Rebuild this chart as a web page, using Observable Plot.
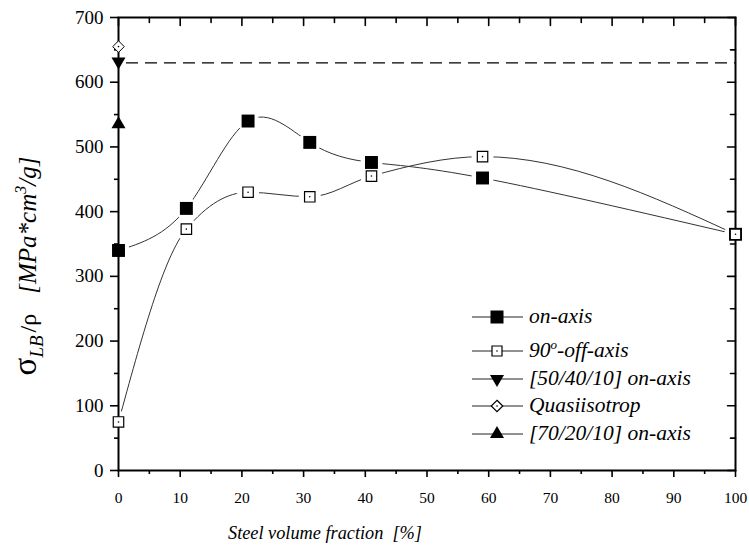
<!DOCTYPE html>
<html><head><meta charset="utf-8">
<script src="https://cdn.jsdelivr.net/npm/d3@7"></script>
<script src="https://cdn.jsdelivr.net/npm/@observablehq/plot@0.6"></script>
<style>
body{margin:0;background:#fff}
</style>
</head><body><div id="chart"></div>
<script>
// ---- data ----
const steelFraction = [0, 11, 21, 31, 41, 59, 100];
const onAxis        = [340, 405, 540, 507, 476, 452, 365];
const offAxis90     = [75, 373, 430, 423, 455, 485, 365];
const layup50_40_10 = [{x: 0, y: 632}];
const quasiisotrop  = [{x: 0, y: 655}];
const layup70_20_10 = [{x: 0, y: 535}];
const referenceLine = [630];
const xMajor = [0, 10, 20, 30, 40, 50, 60, 70, 80, 90, 100];
const xMinor = [5, 15, 25, 35, 45, 55, 65, 75, 85, 95];
const yMajor = [0, 100, 200, 300, 400, 500, 600, 700];
const yMinor = [50, 150, 250, 350, 450, 550, 650];
const legendLabels = ["on-axis", "90°-off-axis", "[50/40/10] on-axis", "Quasiisotrop", "[70/20/10] on-axis"];

const onData = steelFraction.map((x, i) => ({x, y: onAxis[i]}));
const offData = steelFraction.map((x, i) => ({x, y: offAxis90[i]}));
const allSeriesPts = onData.concat(offData);

const tickShape = {draw(ctx, l) { ctx.moveTo(0, 0); ctx.lineTo(0, -l); }};
const FONT = "Liberation Serif";

const plot = Plot.plot({
  width: 749, height: 546,
  marginLeft: 118, marginRight: 14, marginTop: 17, marginBottom: 76,
  style: {fontFamily: FONT, background: "white", color: "black"},
  x: {domain: [0, 100]},
  y: {domain: [0, 700]},
  marks: [
    Plot.line(onData, {x: "x", y: "y", curve: "natural", stroke: "#333", strokeWidth: 1}),
    Plot.line(offData, {x: "x", y: "y", curve: "monotone-x", stroke: "#333", strokeWidth: 1}),
    Plot.ruleY(referenceLine, {x1: 0, x2: 100, insetLeft: 8, stroke: "black", strokeWidth: 1.2, strokeDasharray: "12,7"}),
    Plot.dot(allSeriesPts, {x: "x", y: "y", r: 11, fill: "white", stroke: null}),
    Plot.frame({stroke: "black", strokeWidth: 2}),
    Plot.axisX({ticks: xMajor, tickSize: 7, tickPadding: 14, fontSize: 15.5, label: null, strokeWidth: 1.6}),
    Plot.axisX({ticks: xMinor, tickSize: 4, tickFormat: () => "", label: null, strokeWidth: 1.6}),
    Plot.axisY({ticks: yMajor, tickSize: 8, tickPadding: 7, fontSize: 19, label: null, strokeWidth: 1.6}),
    Plot.axisY({ticks: yMinor, tickSize: 4, tickFormat: () => "", label: null, strokeWidth: 1.6}),
    Plot.vector(xMajor, {x: d => d, frameAnchor: "top", length: 8, rotate: 180, anchor: "start", shape: tickShape, stroke: "black", strokeWidth: 1.6}),
    Plot.vector(xMinor, {x: d => d, frameAnchor: "top", length: 5, rotate: 180, anchor: "start", shape: tickShape, stroke: "black", strokeWidth: 1.6}),
    Plot.vector(yMajor, {y: d => d, frameAnchor: "right", length: 8, rotate: 270, anchor: "start", shape: tickShape, stroke: "black", strokeWidth: 1.6}),
    Plot.vector(yMinor, {y: d => d, frameAnchor: "right", length: 5, rotate: 270, anchor: "start", shape: tickShape, stroke: "black", strokeWidth: 1.6}),
    Plot.dot(onData, {x: "x", y: "y", symbol: "square", r: 7.3, fill: "black", stroke: null}),
    Plot.dot(offData, {x: "x", y: "y", symbol: "square", r: 5.9, fill: "white", stroke: "black", strokeWidth: 1.2}),
    Plot.dot(offData, {x: "x", y: "y", r: 0.8, fill: "black", stroke: null}),
    Plot.dot(layup50_40_10, {x: "x", y: "y", symbol: "triangle", rotate: 180, r: 5.2, fill: "black", stroke: null}),
    Plot.dot(layup70_20_10, {x: "x", y: "y", symbol: "triangle", r: 5.2, fill: "black", stroke: null}),
    Plot.dot(quasiisotrop, {x: "x", y: "y", symbol: "diamond2", r: 5.2, fill: "white", stroke: "black", strokeWidth: 1}),
    Plot.dot(quasiisotrop, {x: "x", y: "y", r: 0.8, fill: "black", stroke: null})
  ]
});
document.getElementById("chart").appendChild(plot);

const svg = d3.select(plot);
// x label
svg.append("text").attr("x", 325).attr("y", 539).attr("text-anchor", "middle")
  .attr("font-size", 18.3).attr("font-style", "italic").attr("fill", "black")
  .attr("font-family", FONT)
  .text("Steel volume fraction  [%]");
// y label
const yl = svg.append("text").attr("transform", "translate(36,266) rotate(-90)")
  .attr("text-anchor", "middle").attr("fill", "black").attr("font-size", 25)
  .attr("font-family", FONT);
yl.append("tspan").attr("font-size", 33).text("σ");
yl.append("tspan").attr("font-size", 19).attr("font-style", "italic").attr("dy", 7).text("LB");
yl.append("tspan").attr("font-size", 24).attr("dy", -7).attr("dx", 3).text("/ρ");
yl.append("tspan").attr("font-style", "italic").attr("dx", 20).text("[MPa*cm");
yl.append("tspan").attr("font-style", "italic").attr("font-size", 16).attr("dy", -10).text("3");
yl.append("tspan").attr("font-style", "italic").attr("dy", 10).text("/g]");

// legend
const legRows = [317, 351, 379, 406, 434];
const symbols = [
  {type: d3.symbolSquare, size: 169, fill: "black", stroke: "none", rot: 0, dot: false},
  {type: d3.symbolSquare, size: 100, fill: "white", stroke: "black", rot: 0, dot: true},
  {type: d3.symbolTriangle, size: 85, fill: "black", stroke: "none", rot: 180, dot: false},
  {type: d3.symbolDiamond2, size: 85, fill: "white", stroke: "black", rot: 0, dot: true},
  {type: d3.symbolTriangle, size: 85, fill: "black", stroke: "none", rot: 0, dot: false}
];
const leg = svg.append("g").attr("font-family", FONT).attr("text-anchor", "start");
legendLabels.forEach((lab, i) => {
  const y = legRows[i];
  leg.append("line").attr("x1", 472).attr("x2", 523).attr("y1", y).attr("y2", y)
    .attr("stroke", "#222").attr("stroke-width", 1);
  const s = symbols[i];
  leg.append("path").attr("d", d3.symbol(s.type, s.size)())
    .attr("transform", `translate(497,${y}) rotate(${s.rot})`)
    .attr("fill", s.fill).attr("stroke", s.stroke).attr("stroke-width", 1.2);
  if (s.dot) leg.append("circle").attr("cx", 497).attr("cy", y).attr("r", 0.8).attr("fill", "black");
  const t = leg.append("text").attr("x", 529).attr("y", y + 6).attr("font-size", 21.5)
    .attr("font-style", "italic").attr("fill", "black").attr("text-anchor", "start");
  if (i === 1) {
    t.append("tspan").text("90");
    t.append("tspan").attr("font-size", 13).attr("dy", -8).text("o");
    t.append("tspan").attr("dy", 8).text("-off-axis");
  } else t.text(lab);
});
</script>
</body></html>
